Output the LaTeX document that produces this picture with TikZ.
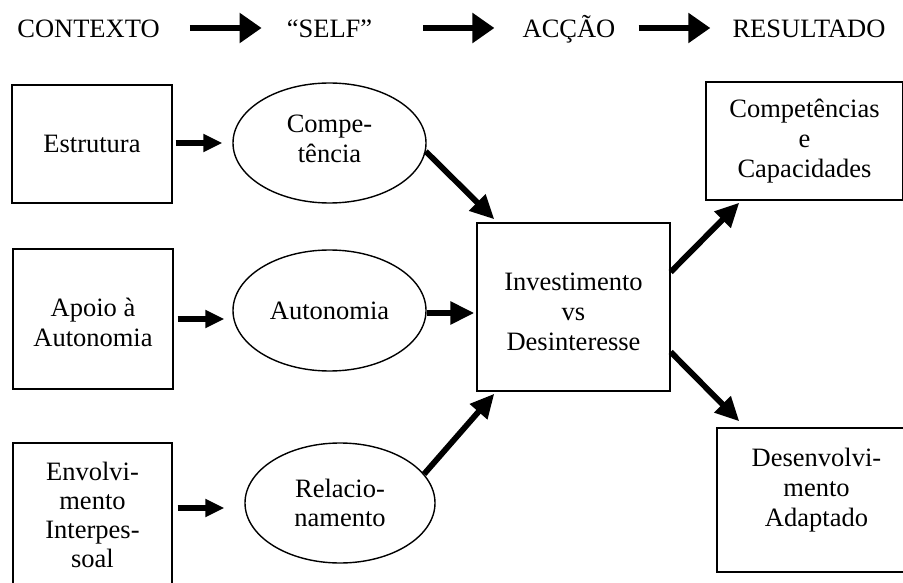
\documentclass[tikz,border=0pt]{standalone}
\usepackage{fontspec}
\setmainfont{Liberation Serif}
\usetikzlibrary{arrows.meta,shapes.geometric}
\begin{document}
\begin{tikzpicture}[x=1pt,y=-1pt,
  every node/.style={font=\fontsize{26.5pt}{30pt}\selectfont, inner sep=0pt, align=center},
  box/.style={draw, line width=1.4pt, rectangle},
  oval/.style={draw, line width=1.4pt, ellipse},
  toparrow/.style={line width=6.5pt, -{Triangle[length=22pt,width=29pt]}},
  sidearrow/.style={line width=6.5pt, -{Triangle[length=19pt,width=17pt]}},
  diagarrow/.style={line width=5.8pt, -{Triangle[length=24pt,width=22pt]}},
]
\useasboundingbox (0,0) rectangle (903,583);

% header
\node[anchor=base] (ctx) at (88.5,38) {CONTEXTO};
\node[anchor=base] (self) at (329.5,38) {“SELF”};
\node[anchor=base] (acc) at (569,38) {ACÇÃO};
\node[anchor=base] (res) at (809,38) {RESULTADO};

\draw[toparrow, shorten <=30pt, shorten >=25pt] ([yshift=10pt]ctx.base east) -- ([yshift=10pt]self.base west);
\draw[toparrow, shorten <=51pt, shorten >=28pt] ([yshift=10pt]self.base east) -- ([yshift=10pt]acc.base west);
\draw[toparrow, shorten <=23pt, shorten >=22pt] ([yshift=10pt]acc.base east) -- ([yshift=10pt]res.base west);

% context boxes
\node[box, minimum width=160pt, minimum height=118pt] (est) at (92,144) {Estrutura};
\node[box, minimum width=160pt, minimum height=140pt] (apo) at (93,319) {};
\node (apoT) at (93,322) {Apoio à\\Autonomia};
\node[box, minimum width=159pt, minimum height=144pt,
      font=\fontsize{26.5pt}{29pt}\selectfont] (env) at (92.5,515) {Envolvi-\\mento\\Interpes-\\soal};

% self ellipses
\node[oval, minimum width=193pt, minimum height=120pt] (comp) at (329.5,143) {};
\node (compT) at (329.5,138.5) {Compe-\\tência};
\node[oval, minimum width=193pt, minimum height=121pt] (aut) at (329.5,310.5) {Autonomia};
\node[oval, minimum width=190pt, minimum height=120pt,
      font=\fontsize{26.5pt}{28.5pt}\selectfont] (rel) at (340,503) {Relacio-\\namento};

% action
\node[box, minimum width=193pt, minimum height=168pt] (inv) at (573.5,307) {};
\node (invT) at (573.5,312) {Investimento\\vs\\Desinteresse};

% results
\node[box, minimum width=197pt, minimum height=118pt] (cap) at (804.5,141) {Competências\\e\\Capacidades};
\node[box, minimum width=199pt, minimum height=144pt] (des) at (816.5,500) {};
\node (desT) at (816.5,490.5) {Desenvolvi-\\mento\\Adaptado};

% connectors
\draw[sidearrow, shorten <=3pt, shorten >=10pt] ([yshift=1pt]est.east) -- ([yshift=1pt]est.east -| comp.west);
\draw[sidearrow, shorten <=4pt, shorten >=8pt] (apo.east) -- (apo.east -| aut.west);
\draw[sidearrow, shorten <=5pt, shorten >=20pt] ([yshift=7pt]env.east) -- ([yshift=7pt]env.east -| rel.west);

\draw[diagarrow] (comp.-5) -- ([xshift=18pt,yshift=3pt]inv.north west);
\draw[diagarrow, shorten >=2pt] ([yshift=-2.5pt]aut.east) -- ([yshift=-2.5pt]aut.east -| inv.west);
\draw[diagarrow] (rel.19) -- ([xshift=18pt,yshift=-2pt]inv.south west);
\draw[diagarrow] ([yshift=35pt]inv.east) -- ([xshift=34pt,yshift=-2pt]cap.south west);
\draw[diagarrow] ([yshift=-45pt]inv.east) -- ([xshift=23pt,yshift=6pt]des.north west);
\end{tikzpicture}
\end{document}
